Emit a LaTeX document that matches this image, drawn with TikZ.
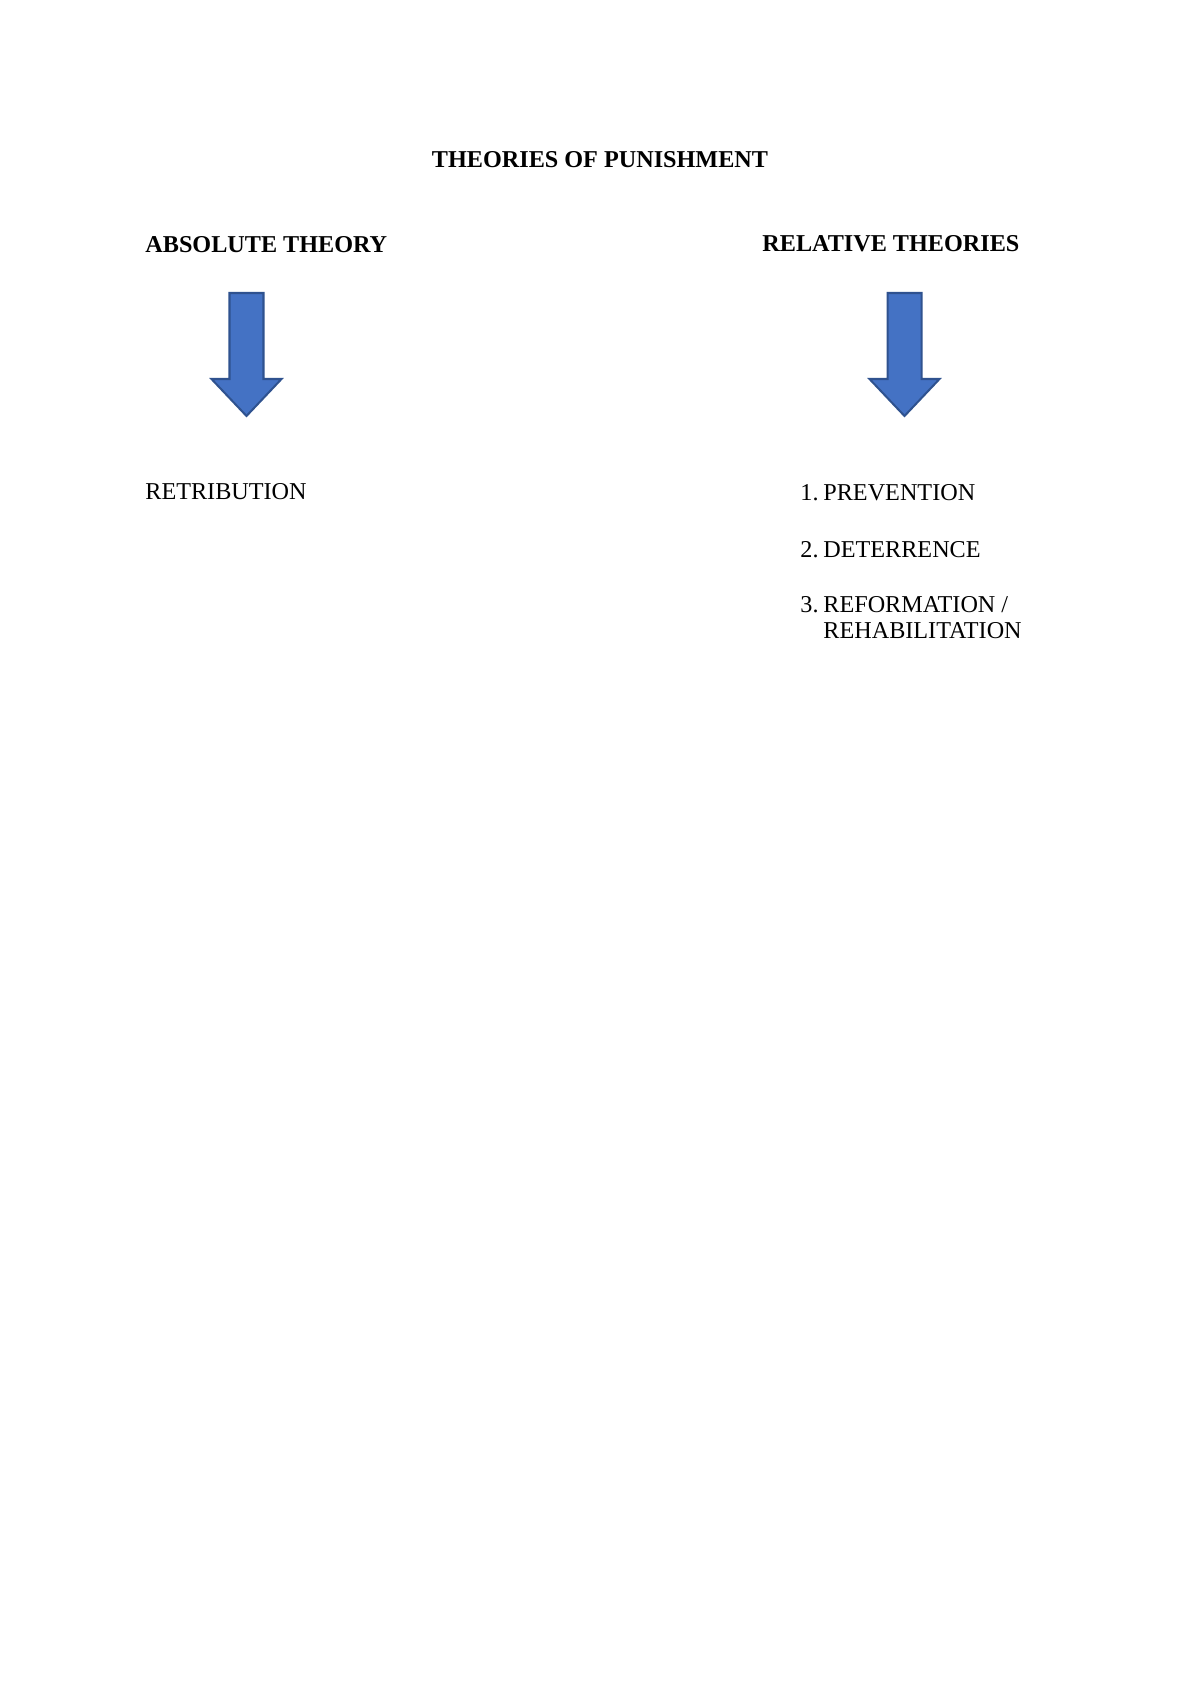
\documentclass[tikz,border=0pt]{standalone}
\usepackage{fontspec}
\setmainfont{Liberation Serif}
\usepackage{xcolor}
\usepackage{tikz}
\usetikzlibrary{positioning}

\definecolor{arrowblue}{RGB}{68,114,196}
\definecolor{arrowedge}{RGB}{47,82,143}

\begin{document}
\begin{tikzpicture}[x=0.49607pt, y=-0.49607pt,
    every node/.style={inner sep=0pt, anchor=base west, font=\fontsize{12}{12.9}\selectfont},
    heading/.style={font=\fontsize{12}{12.9}\selectfont\bfseries},
    blockarrow/.style={fill=arrowblue, draw=arrowedge, line width=1pt, line join=miter}]
    \useasboundingbox[fill=white] (0,0) rectangle (1200,1696);

    % Headings
    \node[heading, anchor=base] (title) at (600,167) {THEORIES OF PUNISHMENT};
    \node[heading] (absolute) at (145,252) {ABSOLUTE THEORY};
    \node[heading] (relative) at (762,251) {RELATIVE THEORIES};

    % Arrows
    \draw[blockarrow, shift={(246.5,0)}] (-17,293) -- (17,293) -- (17,379) -- (35,379) -- (0,416) -- (-35,379) -- (-17,379) -- cycle;
    \draw[blockarrow, shift={(904.5,0)}] (-17,293) -- (17,293) -- (17,379) -- (35,379) -- (0,416) -- (-35,379) -- (-17,379) -- cycle;

    % Theories
    \node (retribution) at (145,499) {RETRIBUTION};
    \node (n1) at (800,500) {1.};
    \node (prevention) at (823,500) {PREVENTION};
    \node (n2) at (800,557) {2.};
    \node (deterrence) at (823,557) {DETERRENCE};
    \node (n3) at (800,612) {3.};
    \node (reformation) at (823,612) {REFORMATION /};
    \node (rehabilitation) at (823,638) {REHABILITATION};
\end{tikzpicture}
\end{document}
